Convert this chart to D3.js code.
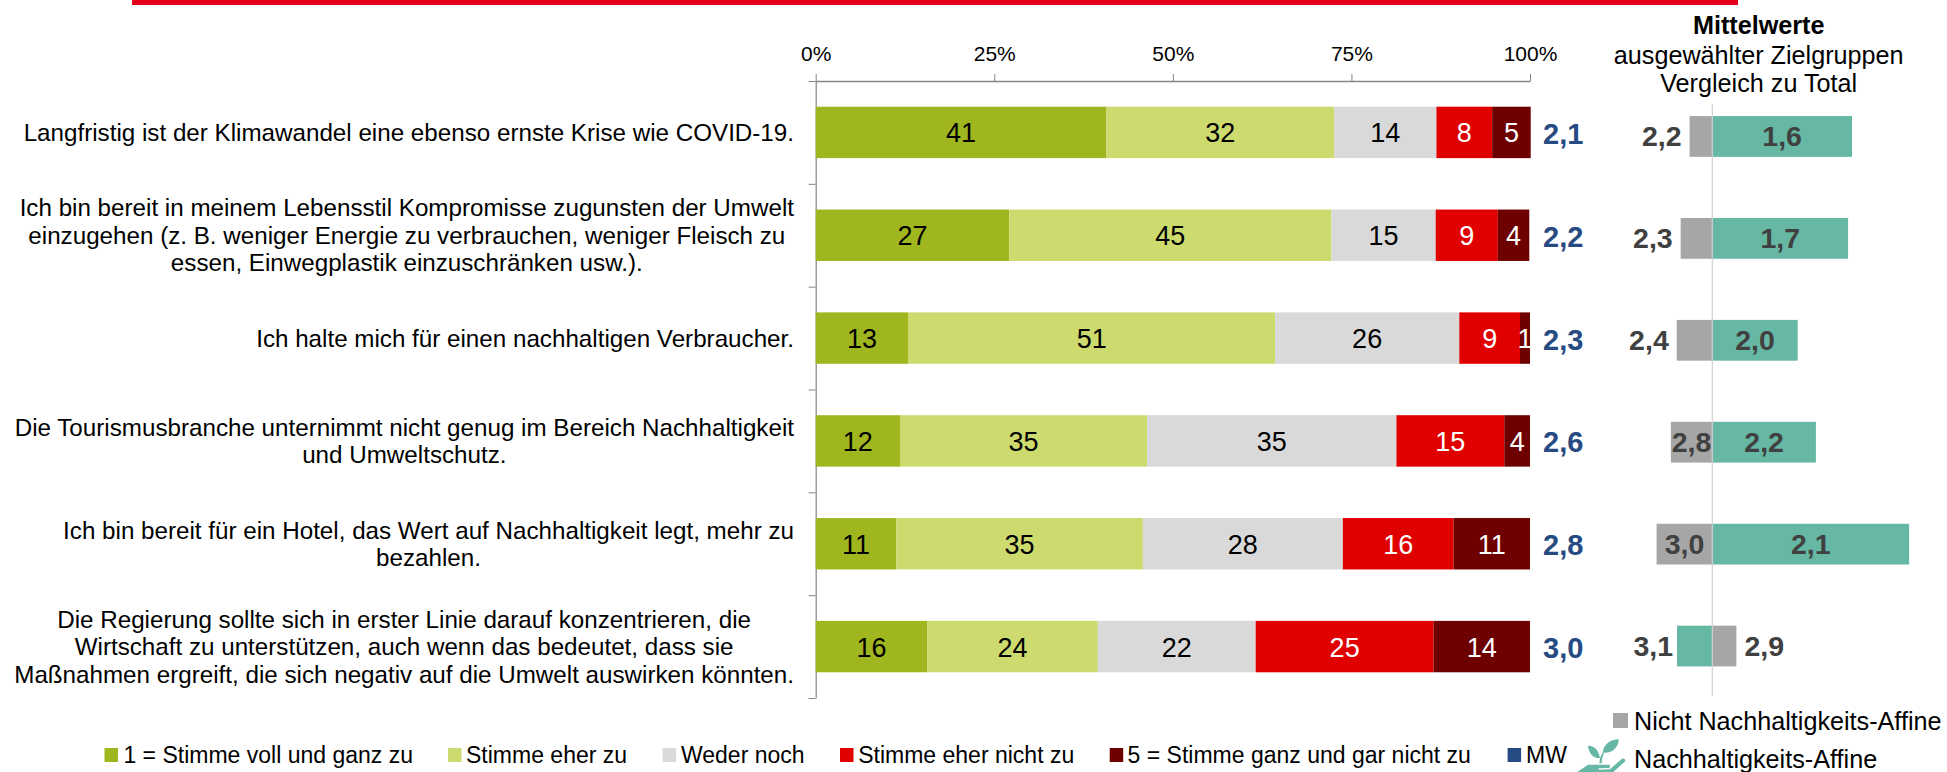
<!DOCTYPE html>
<html lang="de">
<head>
<meta charset="utf-8">
<title>Mittelwerte Nachhaltigkeit</title>
<script src="https://cdn.jsdelivr.net/npm/d3@7"></script>
<style>
html,body{margin:0;padding:0;background:#fff;}
svg{display:block;font-family:"Liberation Sans",Arial,sans-serif;}
</style>
</head>
<body>
<svg id="chart" width="1947" height="772"></svg>
<script>
const statements = [
  ["Langfristig ist der Klimawandel eine ebenso ernste Krise wie COVID-19."],
  ["Ich bin bereit in meinem Lebensstil Kompromisse zugunsten der Umwelt","einzugehen (z. B. weniger Energie zu verbrauchen, weniger Fleisch zu","essen, Einwegplastik einzuschränken usw.)."],
  ["Ich halte mich für einen nachhaltigen Verbraucher."],
  ["Die Tourismusbranche unternimmt nicht genug im Bereich Nachhaltigkeit","und Umweltschutz."],
  ["Ich bin bereit für ein Hotel, das Wert auf Nachhaltigkeit legt, mehr zu","bezahlen."],
  ["Die Regierung sollte sich in erster Linie darauf konzentrieren, die","Wirtschaft zu unterstützen, auch wenn das bedeutet, dass sie","Maßnahmen ergreift, die sich negativ auf die Umwelt auswirken könnten."]
];
const seriesNames = ["1 = Stimme voll und ganz zu","Stimme eher zu","Weder noch","Stimme eher nicht zu","5 = Stimme ganz und gar nicht zu"];
const seriesColors = ["#A0B61E","#CCDA6E","#D9D9D9","#E00000","#6E0000"];
const seriesTextColors = ["#000","#000","#000","#fff","#fff"];
const stimmeVoll = [40.7,27.1,13.0,11.8,11.3,15.6];
const stimmeEher = [31.9,45.1,51.3,34.6,34.5,23.9];
const wederNoch = [14.3,14.6,25.8,34.9,28.0,22.1];
const eherNicht = [7.8,8.7,8.5,15.1,15.5,24.9];
const ganzNicht = [5.4,4.4,1.4,3.6,10.7,13.5];
const meanTotal = ["2,1","2,2","2,3","2,6","2,8","3,0"];
// Abweichung vom Total (positiv = Mittelwert höher als Total)
const nichtAffineDelta = [0.081,0.113,0.127,0.148,0.199,-0.086];
const affineDelta = [-0.499,-0.485,-0.305,-0.37,-0.703,0.126];
const nichtAffineLabel = ["2,2","2,3","2,4","2,8","3,0","2,9"];
const affineLabel = ["1,6","1,7","2,0","2,2","2,1","3,1"];
const axisTicks = [0,25,50,75,100];
const titleLines = ["Mittelwerte","ausgewählter Zielgruppen","Vergleich zu Total"];
const legendPositions = [104.5,448,662.6,840,1109.7];

const svg = d3.select("#chart");
const MW_BLUE = "#264A82", GREY_BAR = "#A6A6A6", TEAL = "#66B8A4", VAL = "#404040";

// red rule on top
svg.append("rect").attr("x",132).attr("y",0).attr("width",1606).attr("height",5).attr("fill","#E2001A");

const x = d3.scaleLinear().domain([0,100]).range([815.7,1530]);
const yAxisScale = d3.scaleLinear().domain([0,6]).range([81,698]);
const y = d3.scaleBand().domain(d3.range(6)).range([81,698]).paddingInner(0.5).paddingOuter(0.25);

// axes
const axTop = svg.append("g").attr("transform","translate(0,81)")
  .call(d3.axisTop(x).tickValues(axisTicks).tickSize(7).tickSizeOuter(0).tickFormat(d=>d+"%"));
axTop.select(".domain").attr("stroke","#868686").attr("stroke-width",1.5);
axTop.selectAll(".tick line").attr("stroke","#868686");
axTop.selectAll(".tick text").attr("font-size",21).attr("font-family","inherit").attr("fill","#000").attr("y",-20).attr("dy",0);

const axLeft = svg.append("g").attr("transform","translate(815.7,0)")
  .call(d3.axisLeft(yAxisScale).ticks(6).tickSize(7).tickSizeOuter(0).tickFormat(""));
axLeft.select(".domain").attr("stroke","#868686").attr("stroke-width",1.2);
axLeft.selectAll(".tick line").attr("stroke","#868686");

// stacked bars
const rows = d3.range(6).map(i=>{
  const vals=[stimmeVoll[i],stimmeEher[i],wederNoch[i],eherNicht[i],ganzNicht[i]];
  let c=0;
  return vals.map((v,s)=>{const o={i,s,v,x0:c,x1:c+v};c+=v;return o;});
});
const segs = svg.append("g").selectAll("g").data(rows).join("g").selectAll("g").data(d=>d).join("g");
segs.append("rect").attr("x",d=>x(d.x0)).attr("y",d=>y(d.i)).attr("width",d=>x(d.x1)-x(d.x0)).attr("height",y.bandwidth()).attr("fill",d=>seriesColors[d.s]);
segs.append("text").attr("x",d=>x((d.x0+d.x1)/2)).attr("y",d=>y(d.i)+y.bandwidth()/2+10)
  .attr("text-anchor","middle").attr("font-size",27).attr("fill",d=>seriesTextColors[d.s]).text(d=>Math.round(d.v));

// mean totals
svg.append("g").selectAll("text").data(meanTotal).join("text")
  .attr("x",1543).attr("y",(d,i)=>y(i)+y.bandwidth()/2+11.5)
  .attr("font-size",29).attr("font-weight","bold").attr("fill",MW_BLUE).text(d=>d);

// statements
const labelRight = 794, LINE = 27.5, labelSize = 24.2;
statements.forEach((lines,i)=>{
  const cy = y(i)+y.bandwidth()/2;
  const g = svg.append("g");
  const ts = g.selectAll("text").data(lines).join("text")
    .attr("font-size",labelSize).attr("fill","#000").attr("text-anchor","middle")
    .attr("y",(d,k)=>cy+8.5+(k-(lines.length-1)/2)*LINE).text(d=>d);
  const w = d3.max(ts.nodes(),n=>n.getComputedTextLength());
  ts.attr("x",labelRight-w/2);
});

// right-hand comparison
const xd = d3.scaleLinear().domain([1,-1]).range([1712.3-280,1712.3+280]);
const yr = d3.scaleBand().domain(d3.range(6)).range([85.5,697]).paddingInner(0.6).paddingOuter(0.3);
const cmpGroups = [
  {vals:nichtAffineDelta,labels:nichtAffineLabel,color:GREY_BAR,gap:8},
  {vals:affineDelta,labels:affineLabel,color:TEAL,gap:4}
];
const cmp = svg.append("g");
cmpGroups.forEach(grp=>{
  const gg = cmp.append("g").selectAll("g").data(grp.vals).join("g");
  gg.append("rect")
    .attr("x",d=>Math.min(xd(d),xd(0))).attr("y",(d,i)=>yr(i))
    .attr("width",d=>Math.abs(xd(d)-xd(0))).attr("height",yr.bandwidth()).attr("fill",grp.color);
  gg.append("text").attr("y",(d,i)=>yr(i)+yr.bandwidth()/2+10)
    .attr("font-size",28.5).attr("font-weight","bold").attr("fill",VAL)
    .attr("text-anchor",d=>{const w=Math.abs(xd(d)-xd(0)); return w>=40?"middle":(d>0?"end":"start");})
    .attr("x",d=>{const w=Math.abs(xd(d)-xd(0)); return w>=40?(xd(d)+xd(0))/2:(d>0?xd(d)-grp.gap:xd(d)+grp.gap);})
    .text((d,i)=>grp.labels[i]);
});
svg.append("line").attr("x1",xd(0)).attr("x2",xd(0)).attr("y1",104).attr("y2",696).attr("stroke","#D0D0D0").attr("stroke-width",1.2);

// title
svg.append("g").selectAll("text").data(titleLines).join("text")
  .attr("x",1758.7).attr("y",(d,i)=>[34,64,92][i]).attr("text-anchor","middle")
  .attr("font-size",25.2).attr("font-weight",(d,i)=>i?"normal":"bold").attr("fill","#000").text(d=>d);

// bottom legend
const leg = svg.append("g").selectAll("g").data(seriesNames.concat(["MW"])).join("g")
  .attr("transform",(d,i)=>`translate(${i<5?legendPositions[i]:1507.6},748)`);
leg.append("rect").attr("width",13.5).attr("height",14).attr("fill",(d,i)=>i<5?seriesColors[i]:MW_BLUE);
leg.append("text").attr("x",(d,i)=>[18.9,18,18.4,18.2,17.9,18.4][i]).attr("y",15).attr("font-size",23).attr("fill","#000").text(d=>d);

// right legend
svg.append("rect").attr("x",1613).attr("y",713).attr("width",15).attr("height",15).attr("fill",GREY_BAR);
svg.append("text").attr("x",1634).attr("y",730).attr("font-size",25.2).attr("fill","#000").text("Nicht Nachhaltigkeits-Affine");
svg.append("text").attr("x",1634).attr("y",768).attr("font-size",25.2).attr("fill","#000").text("Nachhaltigkeits-Affine");

// plant-in-hand icon
const icon = svg.append("g").attr("transform","translate(1560,730) scale(0.3333)").attr("fill",TEAL);
icon.append("path").attr("d","M84,47 C100,46 116,58 120,84 C100,86 86,70 84,47 Z");
icon.append("path").attr("d","M128,68 C130,45 150,28 176,28 C176,52 156,72 128,68 Z");
icon.append("path").attr("d","M120,84 C122,78 124,74 128,68 L132,70 C128,78 126,88 125,100 L118,100 Z");
icon.append("path").attr("d","M52,126 L84,104 L146,104 C152,104 152,113 146,114 L116,115 L116,119 L150,118 L186,86 C194,84 198,90 194,95 L158,128 L52,128 Z");
</script>
</body>
</html>
